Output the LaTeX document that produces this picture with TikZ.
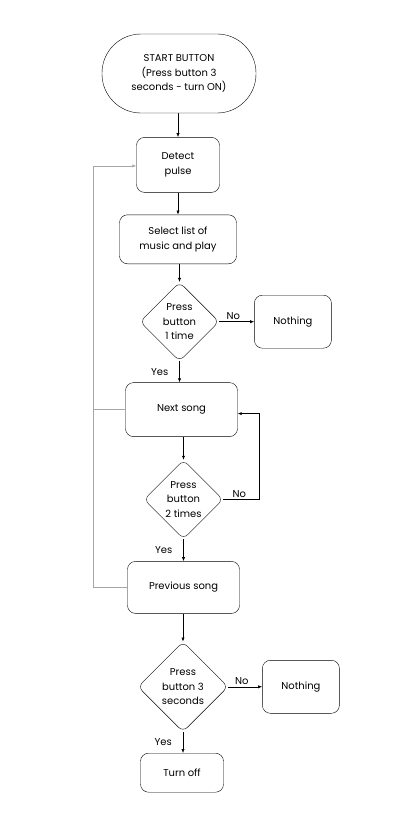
\documentclass[tikz,border=0pt]{standalone}
\usepackage{fontspec}
\setmainfont{Poppins}
\usepackage{tikz}
\usetikzlibrary{positioning,shapes.geometric,arrows.meta}

\tikzset{
  box/.style = {draw, rounded corners=8bp, align=center, inner sep=0pt,
                font=\fontsize{10}{14.5}\selectfont},
  ask/.style = {draw, diamond, aspect=1, rounded corners=6bp, align=center,
                inner sep=-1bp, font=\fontsize{10}{14.5}\selectfont},
  arr/.style = {-{Latex[length=4bp,width=3.2bp]}, line width=0.6bp},
  back/.style = {arr, draw=black!35},
  lbl/.style = {font=\fontsize{10}{12}\selectfont, inner sep=2bp}
}

\begin{document}
\begin{tikzpicture}[x=1bp, y=-1bp]
  \useasboundingbox (0,0) rectangle (417,828);

  \node[box, rounded corners=39bp, minimum width=154bp, minimum height=79bp] (s) at (179,73.5)
    {START BUTTON\\(Press button 3\\seconds - turn ON)};
  \node[box, minimum width=83bp, minimum height=55bp, below=24bp of s, xshift=-1bp] (d) {Detect\\pulse};
  \node[box, minimum width=117bp, minimum height=49bp, below=22bp of d] (sel) {Select list of\\music and play};
  \node[ask, minimum size=79bp, below=18bp of sel, xshift=1.5bp] (q1) {Press\\button\\1 time};
  \node[box, minimum width=77bp, minimum height=53bp, right=35bp of q1] (n1) {Nothing};
  \node[box, minimum width=112bp, minimum height=54bp, below=21bp of q1, xshift=2bp] (nx) {Next song};
  \node[ask, minimum size=79bp, below=23bp of nx, xshift=2bp] (q2) {Press\\button\\2 times};
  \node[box, minimum width=112bp, minimum height=52bp, below=22bp of q2] (pv) {Previous song};
  \node[ask, minimum size=90bp, below=28bp of pv, xshift=-0.5bp] (q3) {Press\\button 3\\seconds};
  \node[box, minimum width=77bp, minimum height=53bp, right=34bp of q3] (n3) {Nothing};
  \node[box, minimum width=83bp, minimum height=39bp, below=21bp of q3, xshift=-1bp] (off) {Turn off};

  \draw[arr] (s) -- (s.south -| d) -- (d);
  \draw[arr] (d) -- (sel);
  \draw[arr] (sel.south -| q1) -- (q1);
  \draw[arr] (q1) -- node[above, lbl, pos=0.4] {No} (n1);
  \draw[arr] (q1) -- node[left=9bp, lbl] {Yes} (q1 |- nx.north);
  \draw[arr] (nx.south -| q2) -- (q2);
  \draw[arr] (q2.east) -- node[above, lbl, pos=0.45] {No} ++(36bp,0) |- ([yshift=-4bp]nx.east);
  \draw[arr] (q2) -- node[left=9bp, lbl] {Yes} (q2 |- pv.north);
  \draw[arr] (pv.south -| q3) -- (q3);
  \draw[arr] (q3) -- node[above, lbl, pos=0.4] {No} (n3);
  \draw[arr] (q3) -- node[left=9bp, lbl] {Yes} (q3 |- off.north);

  \draw[back] (pv.west) -- ++(-34bp,0) coordinate (turn) |- ([yshift=-1bp]d.west);
  \draw[draw=black!35, line width=0.6bp] (nx.west) -- (nx.west -| turn);
\end{tikzpicture}
\end{document}
